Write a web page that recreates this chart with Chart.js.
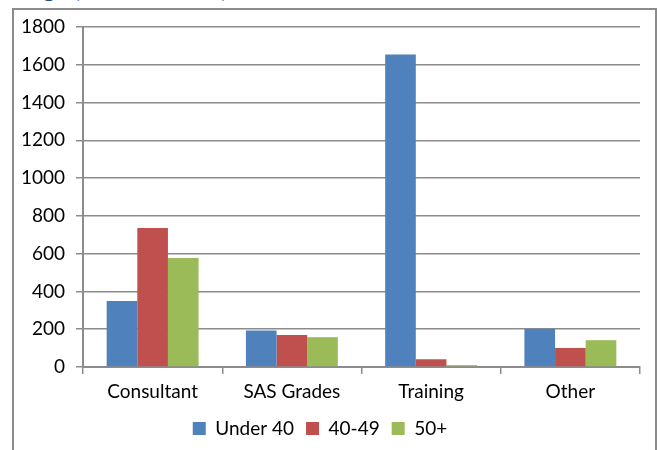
<!DOCTYPE html>
<html lang="en">
<head>
  <meta charset="UTF-8">
  <title>Age by Grade</title>
  <script src="https://cdn.jsdelivr.net/npm/chart.js"></script>
  <style>
    body { margin: 0; background: #fff; width: 661px; height: 450px; overflow: hidden; position: relative; }
    #heading { position: absolute; left: 26px; top: -24px; font: bold 24px/24px Lato, sans-serif; color: #1F497D; white-space: nowrap; }
    #frame { position: absolute; left: 12px; top: 8px; width: 641px; height: 470px; border: 2px solid #8c8c8c; }
    #wrap { position: absolute; left: 0; top: 0; width: 661px; height: 450px; }
  </style>
</head>
<body>
  <div id="heading">Age (Medical Staff)</div>
  <div id="frame"></div>
  <div id="wrap"><canvas id="ageChart" width="661" height="450"></canvas></div>

  <script>
    const grades = ['Consultant', 'SAS Grades', 'Training', 'Other'];
    const under40 = [350, 193, 1655, 203];
    const age40to49 = [736, 170, 41, 101];
    const age50plus = [577, 158, 10, 142];
    const yTicks = [0, 200, 400, 600, 800, 1000, 1200, 1400, 1600, 1800];

    const gridGrey = '#8c8c8c';
    Chart.defaults.font.family = 'Lato, sans-serif';
    Chart.defaults.font.size = 19;
    Chart.defaults.color = '#000';

    const ctx = document.getElementById('ageChart').getContext('2d');
    new Chart(ctx, {
      type: 'bar',
      data: {
        labels: grades,
        datasets: [
          { label: 'Under 40', data: under40, backgroundColor: '#4F81BD' },
          { label: '40-49', data: age40to49, backgroundColor: '#C0504D' },
          { label: '50+', data: age50plus, backgroundColor: '#9BBB59' }
        ]
      },
      options: {
        responsive: false,
        animation: false,
        layout: { padding: { left: 0, right: 21, top: 27, bottom: 2 } },
        datasets: {
          bar: { categoryPercentage: 0.66, barPercentage: 1, borderWidth: 0 }
        },
        scales: {
          x: {
            grid: { drawOnChartArea: false, drawTicks: true, tickLength: 7, color: gridGrey, lineWidth: 1.5 },
            border: { display: true, color: gridGrey, width: 2 },
            ticks: { padding: 6 },
            afterFit: function(scale) { scale.height = 40; }
          },
          y: {
            min: 0,
            max: 1800,
            afterBuildTicks: function(scale) { scale.ticks = yTicks.map(v => ({ value: v })); },
            grid: { color: gridGrey, lineWidth: 1.5, tickLength: 7 },
            border: { display: true, color: gridGrey, width: 2 },
            ticks: { padding: 11, callback: function(v) { return String(v); } },
            afterFit: function(scale) { scale.width = 83; }
          }
        },
        plugins: {
          legend: {
            position: 'bottom',
            labels: { boxWidth: 13, boxHeight: 13, padding: 12 }
          },
          tooltip: { enabled: false }
        }
      }
    });
  </script>
</body>
</html>
